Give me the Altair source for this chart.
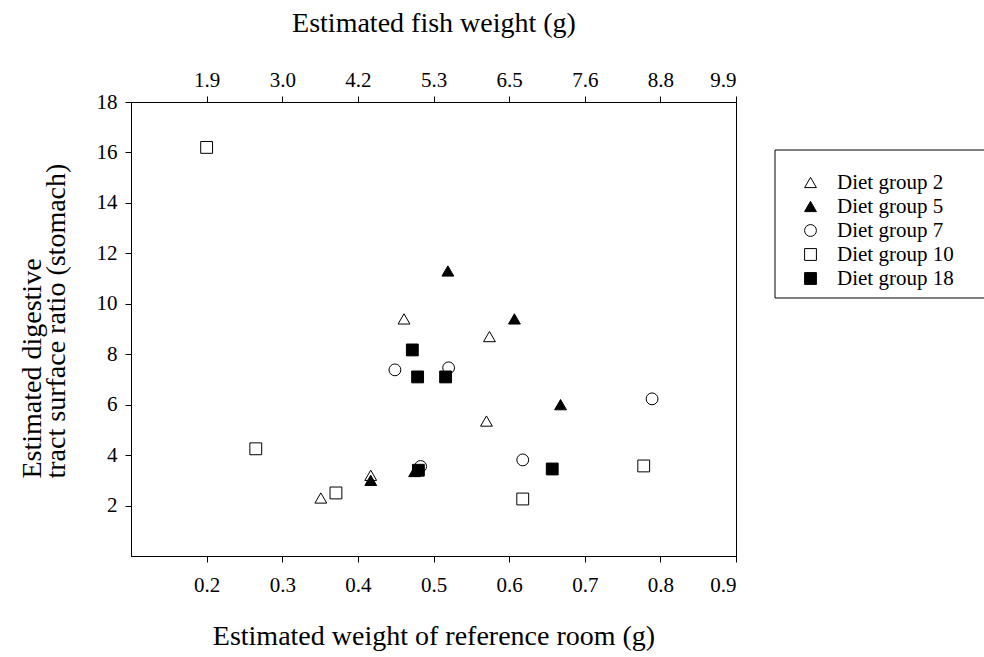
import altair as alt
import pandas as pd

# Diet groups and their marker styles
groups = ["Diet group 2", "Diet group 5", "Diet group 7", "Diet group 10", "Diet group 18"]
group_shapes = ["triangle-up", "triangle-up", "circle", "square", "square"]
group_fills = ["white", "black", "white", "white", "black"]
group_sizes = [140, 140, 115, 95, 95]

# Estimated weight of reference room (g) and stomach surface ratio, per group
ref_g2 = [0.351, 0.417, 0.461, 0.570, 0.574]
ratio_g2 = [2.30, 3.20, 9.40, 5.35, 8.70]

ref_g5 = [0.417, 0.475, 0.519, 0.607, 0.668]
ratio_g5 = [3.00, 3.35, 11.30, 9.40, 6.00]

ref_g7 = [0.449, 0.483, 0.520, 0.618, 0.789]
ratio_g7 = [7.38, 3.55, 7.46, 3.81, 6.23]

ref_g10 = [0.200, 0.265, 0.371, 0.618, 0.778]
ratio_g10 = [16.20, 4.25, 2.50, 2.26, 3.57]

ref_g18 = [0.472, 0.479, 0.480, 0.516, 0.657]
ratio_g18 = [8.17, 7.10, 3.40, 7.10, 3.45]

# Axis ticks: bottom axis values and matching fish-weight labels on top axis
ref_ticks = [0.2, 0.3, 0.4, 0.5, 0.6, 0.7, 0.8, 0.9]
fish_weight_labels = ["1.9", "3.0", "4.2", "5.3", "6.5", "7.6", "8.8", "9.9"]
ratio_ticks = [2, 4, 6, 8, 10, 12, 14, 16, 18]

series = [
    (groups[0], ref_g2, ratio_g2),
    (groups[1], ref_g5, ratio_g5),
    (groups[2], ref_g7, ratio_g7),
    (groups[3], ref_g10, ratio_g10),
    (groups[4], ref_g18, ratio_g18),
]
rows = []
for name, xs, ys in series:
    for xv, yv in zip(xs, ys):
        rows.append({"group": name, "ref": xv, "ratio": yv})
df = pd.DataFrame(rows)

FONT = "Liberation Serif"
x_scale = alt.Scale(domain=[0.1, 0.9], nice=False, zero=False)
y_scale = alt.Scale(domain=[0, 18], nice=False, zero=False)

label_array = "[" + ",".join("'" + s + "'" for s in fish_weight_labels) + "]"

legend_style = dict(
    title=None,
    orient="none",
    legendX=669,
    legendY=70,
    symbolStrokeWidth=1,
    labelFont=FONT,
    labelFontSize=21,
    labelColor="black",
    labelOffset=16,
    rowPadding=2,
    padding=0,
    zindex=2,
)

points = alt.Chart(df).mark_point(
    filled=True, strokeWidth=1, opacity=1
).encode(
    x=alt.X(
        "ref:Q",
        scale=x_scale,
        axis=alt.Axis(
            orient="bottom",
            values=ref_ticks,
            format=".1f",
            title="Estimated weight of reference room (g)",
            titlePadding=27,
        ),
    ),
    y=alt.Y(
        "ratio:Q",
        scale=y_scale,
        axis=alt.Axis(
            values=ratio_ticks,
            title=["Estimated digestive", "tract surface ratio (stomach)"],
            titleAngle=270,
            titleAlign="left",
            titleBaseline="top",
            titleX=-113,
            titleY=376,
            titleLineHeight=24,
        ),
    ),
    shape=alt.Shape(
        "group:N",
        scale=alt.Scale(domain=groups, range=group_shapes),
        legend=alt.Legend(**legend_style),
    ),
    fill=alt.Fill(
        "group:N",
        scale=alt.Scale(domain=groups, range=group_fills),
        legend=alt.Legend(**legend_style),
    ),
    stroke=alt.Stroke(
        "group:N",
        scale=alt.Scale(domain=groups, range=["black"] * len(groups)),
        legend=alt.Legend(**legend_style),
    ),
    size=alt.Size(
        "group:N",
        scale=alt.Scale(domain=groups, range=group_sizes),
        legend=alt.Legend(**legend_style),
    ),
)

# Top axis: estimated fish weight at the same positions as the bottom ticks
top_axis = alt.Chart(df).mark_point(opacity=0).encode(
    x=alt.X(
        "ref:Q",
        scale=x_scale,
        axis=alt.Axis(
            orient="top",
            values=ref_ticks,
            labelExpr=label_array + "[round(datum.value * 10) - 2]",
            title="Estimated fish weight (g)",
            titlePadding=32,
        ),
    ),
    y=alt.Y("ratio:Q", scale=y_scale, axis=None),
)

# Frame around the legend
legend_frame = alt.Chart(pd.DataFrame({"k": [0]})).mark_rect(
    fillOpacity=0, stroke="black", strokeWidth=1
).encode(
    x=alt.value(644),
    x2=alt.value(880),
    y=alt.value(48),
    y2=alt.value(196),
)

chart = alt.layer(legend_frame, points, top_axis).resolve_axis(
    x="independent", y="independent"
).properties(
    width=605,
    height=454,
    autosize=alt.AutoSizeParams(type="none"),
    padding={"left": 131, "top": 102, "right": 248, "bottom": 101},
).configure_view(
    stroke="black", strokeWidth=1
).configure_axis(
    grid=False,
    domainColor="black",
    domainWidth=1,
    tickColor="black",
    tickSize=6,
    tickWidth=1,
    labelFont=FONT,
    labelFontSize=21,
    labelColor="black",
    labelPadding=8,
    titleFont=FONT,
    titleFontSize=28,
    titleFontWeight="normal",
    titleColor="black",
).configure_axisBottom(
    labelPadding=12
).configure_axisTop(
    labelPadding=6
)

chart.save("out.html", embed_options={"renderer": "svg", "actions": False})
